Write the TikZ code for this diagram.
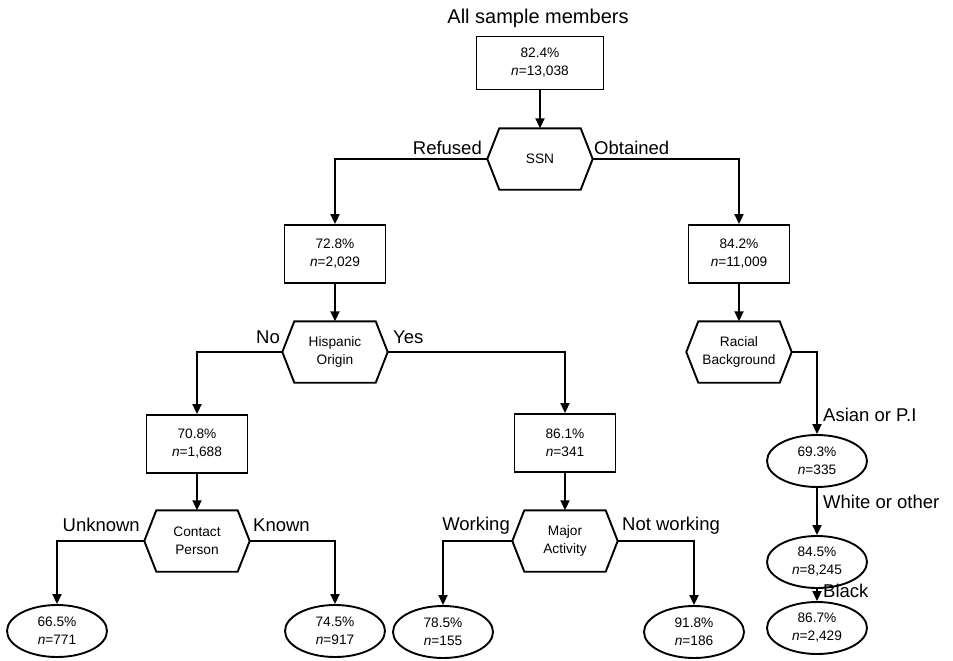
\documentclass[tikz,border=0pt]{standalone}
\usepackage{fontspec}
\setmainfont{Liberation Sans}
\usetikzlibrary{arrows.meta,shapes.geometric}
\newcommand\hexline[1]{\draw[line width=1.9pt,line join=miter] (#1.west) -- ([xshift=12pt]#1.north west) -- ([xshift=-12pt]#1.north east) -- (#1.east) -- ([xshift=-12pt]#1.south east) -- ([xshift=12pt]#1.south west) -- cycle;}
\begin{document}
\begin{tikzpicture}[x=1pt,y=-1pt,
 every node/.style={font=\fontsize{13.7}{18}\selectfont, inner sep=0pt},
 box/.style={draw, line width=1.9pt, minimum width=101pt, minimum height=58pt, align=center},
 hexnode/.style={minimum width=105pt, minimum height=61pt, align=center},
 oval/.style={draw, ellipse, line width=1.9pt, minimum width=100pt, minimum height=52pt, align=center},
 lbl/.style={font=\fontsize{18.5}{22}\selectfont},
 conn/.style={line width=1.9pt, -{Triangle[length=10pt,width=9pt]}}]
\useasboundingbox (0,0) rectangle (953,661);

% nodes
\node[font=\fontsize{20}{24}\selectfont, anchor=base] (title) at (538,24) {All sample members};
\node[box, minimum width=127pt, minimum height=53pt] (root) at (540,63) {82.4\%\\\textit{n}=13,038};
\node[hexnode] (ssn) at (540,159) {SSN};
\node[box] (b2) at (335,254) {72.8\%\\\textit{n}=2,029};
\node[box] (b3) at (739,254) {84.2\%\\\textit{n}=11,009};
\node[hexnode] (hisp) at (335,352) {Hispanic\\Origin};
\node[hexnode] (rac) at (739,352) {Racial\\Background};
\node[box] (b4) at (197,444) {70.8\%\\\textit{n}=1,688};
\node[box] (b5) at (565,443) {86.1\%\\\textit{n}=341};
\node[hexnode] (cp) at (197,541) {Contact\\Person};
\node[hexnode] (ma) at (565,541) {Major\\Activity};
\node[oval] (e66) at (57,631) {66.5\%\\\textit{n}=771};
\node[oval] (e74) at (335,631) {74.5\%\\\textit{n}=917};
\node[oval] (e78) at (443,632) {78.5\%\\\textit{n}=155};
\node[oval] (e91) at (694,632) {91.8\%\\\textit{n}=186};
\node[oval] (e69) at (817,461) {69.3\%\\\textit{n}=335};
\node[oval] (e84) at (817,562) {84.5\%\\\textit{n}=8,245};
\node[oval] (e86) at (817,628) {86.7\%\\\textit{n}=2,429};

\hexline{ssn}
\hexline{hisp}
\hexline{rac}
\hexline{cp}
\hexline{ma}

% labels
\node[lbl, anchor=base east] (lref) at (482,154) {Refused};
\node[lbl, anchor=base west] (lobt) at (594,154) {Obtained};
\node[lbl, anchor=base east] (lno) at (280,343) {No};
\node[lbl, anchor=base west] (lyes) at (393,343) {Yes};
\node[lbl, anchor=base east] (lunk) at (140,531) {Unknown};
\node[lbl, anchor=base west] (lkn) at (253,531) {Known};
\node[lbl, anchor=base east] (lwork) at (510,530) {Working};
\node[lbl, anchor=base west] (lnot) at (622,530) {Not working};
\node[lbl, anchor=base west] (lasian) at (823,421) {Asian or P.I};
\node[lbl, anchor=base west] (lwhite) at (823,508) {White or other};
\node[lbl, anchor=base west] (lblack) at (823,597) {Black};

% connectors
\draw[conn] (root.south) -- (ssn.north);
\draw[conn] (ssn.west) -| (b2.north);
\draw[conn] (ssn.east) -| (b3.north);
\draw[conn] (b2.south) -- (hisp.north);
\draw[conn] (b3.south) -- (rac.north);
\draw[conn] (hisp.west) -| (b4.north);
\draw[conn] (hisp.east) -| (b5.north);
\draw[conn] (rac.east) -| (e69.north);
\draw[conn] (b4.south) -- (cp.north);
\draw[conn] (b5.south) -- (ma.north);
\draw[conn] (cp.west) -| (e66.north);
\draw[conn] (cp.east) -| (e74.north);
\draw[conn] (ma.west) -| (e78.north);
\draw[conn] (ma.east) -| (e91.north);
\draw[conn] (e69.south) -- (e84.north);
\draw[conn] (e84.south) -- (e86.north);
\end{tikzpicture}
\end{document}
